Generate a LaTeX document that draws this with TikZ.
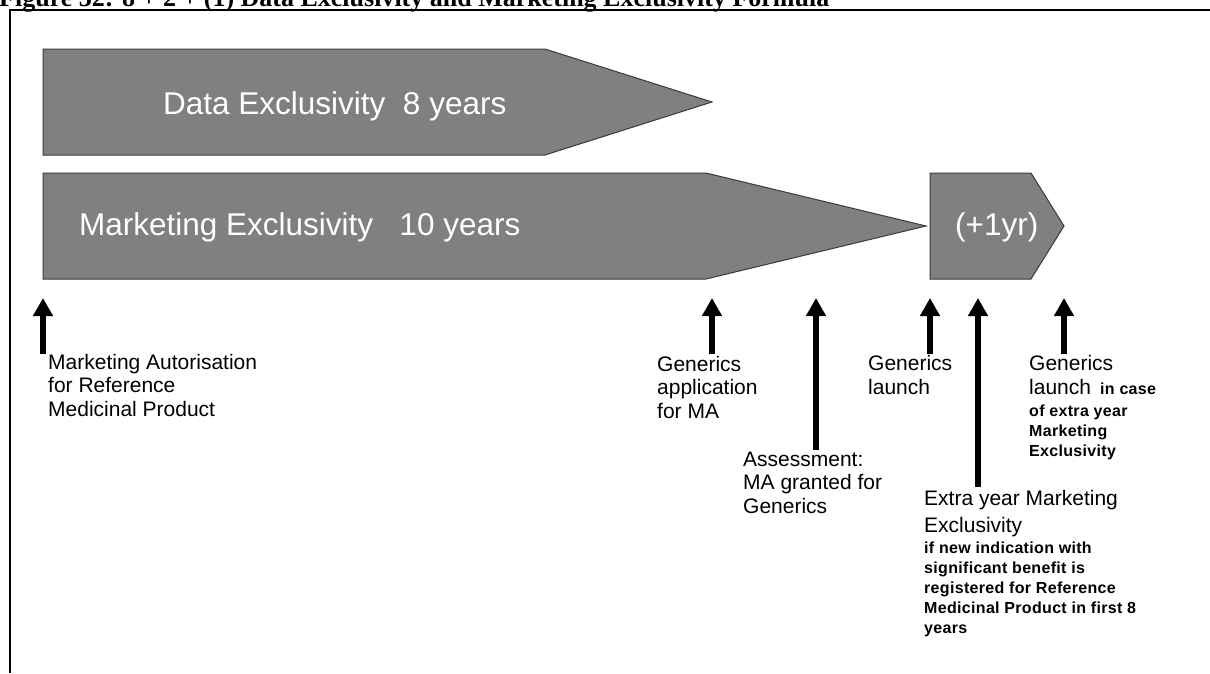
\documentclass[tikz,border=0pt]{standalone}
\usepackage{fontspec}
\setmainfont{Liberation Sans}
\newfontfamily\titlefont{Liberation Serif}
\newfontfamily\notefont[LetterSpace=2]{Liberation Sans}
\usetikzlibrary{arrows.meta}
\definecolor{bargray}{HTML}{808080}
\definecolor{baredge}{HTML}{3A3A3A}
\tikzset{
  bar/.style={fill=bargray, draw=baredge, line width=1pt},
  bartext/.style={text=white, anchor=base west, inner sep=0pt, font=\fontsize{31.5}{36}\selectfont},
  eventtext/.style={anchor=base west, inner sep=0pt, align=left, font=\fontsize{21}{23.5}\selectfont},
  notetext/.style={anchor=base west, inner sep=0pt, align=left, font=\notefont\bfseries\fontsize{16}{19.8}\selectfont},
  uparrow/.style={line width=6pt, -{Triangle[width=19pt,length=18pt]}}
}
\begin{document}
\begin{tikzpicture}[x=1pt, y=-1pt]
\useasboundingbox (0,0) rectangle (1210,673);
% title and frame
\node[anchor=base west, inner sep=0pt, font=\titlefont\bfseries\fontsize{26}{30}\selectfont] (title) at (-1,6.5) {Figure 32: 8 + 2 + (1) Data Exclusivity and Marketing Exclusivity Formula};
\draw[line width=2pt] (10,673) -- (10,10) -- (1210,10);
% bars
\draw[bar] (43,49) -- (545,49) -- (712,102) -- (545,155) -- (43,155) -- cycle;
\draw[bar] (43,173) -- (706,173) -- (926,226) -- (706,279) -- (43,279) -- cycle;
\draw[bar] (930,173) -- (1031,173) -- (1064,226) -- (1031,279) -- (930,279) -- cycle;
\node[bartext] (data) at (163,114) {Data Exclusivity\ \ 8 years};
\node[bartext] (market) at (79,235) {Marketing Exclusivity\ \ \ 10 years};
\node[bartext] (extra) at (955,235) {(+1yr)};
% events (base = last line)
\coordinate (t1) at (43,298);   \coordinate (b1) at (43,354);
\coordinate (t2) at (712,298);  \coordinate (b2) at (712,354);
\coordinate (t3) at (816,298);  \coordinate (b3) at (816,450);
\coordinate (t4) at (930,298);  \coordinate (b4) at (930,354);
\coordinate (t5) at (978,298);  \coordinate (b5) at (978,487);
\coordinate (t6) at (1064,298); \coordinate (b6) at (1064,354);
\draw[uparrow] (b1) -- (t1);
\draw[uparrow] (b2) -- (t2);
\draw[uparrow] (b3) -- (t3);
\draw[uparrow] (b4) -- (t4);
\draw[uparrow] (b5) -- (t5);
\draw[uparrow] (b6) -- (t6);
\node[eventtext] (auth) at (48,416) {Marketing Autorisation\\for Reference\\Medicinal Product};
\node[eventtext] (apply) at (657,418) {Generics\\application\\for MA};
\node[eventtext] (assess) at (743,513) {Assessment:\\MA granted for\\Generics};
\node[eventtext] (launch) at (868,394) {Generics\\launch};
\node[eventtext] (launchx) at (1029,394) {Generics\\launch};
\node[notetext] (incase) at (1100,394) {in case};
\node[notetext] (incasex) at (1029,456) {of extra year\\Marketing\\Exclusivity};
\node[eventtext, font=\fontsize{21}{27}\selectfont] (xyear) at (924,532) {Extra year Marketing\\Exclusivity};
\node[notetext] (xyearnote) at (924,633) {if new indication with\\significant benefit is\\registered for Reference\\Medicinal Product in first 8\\years};
\end{tikzpicture}
\end{document}
